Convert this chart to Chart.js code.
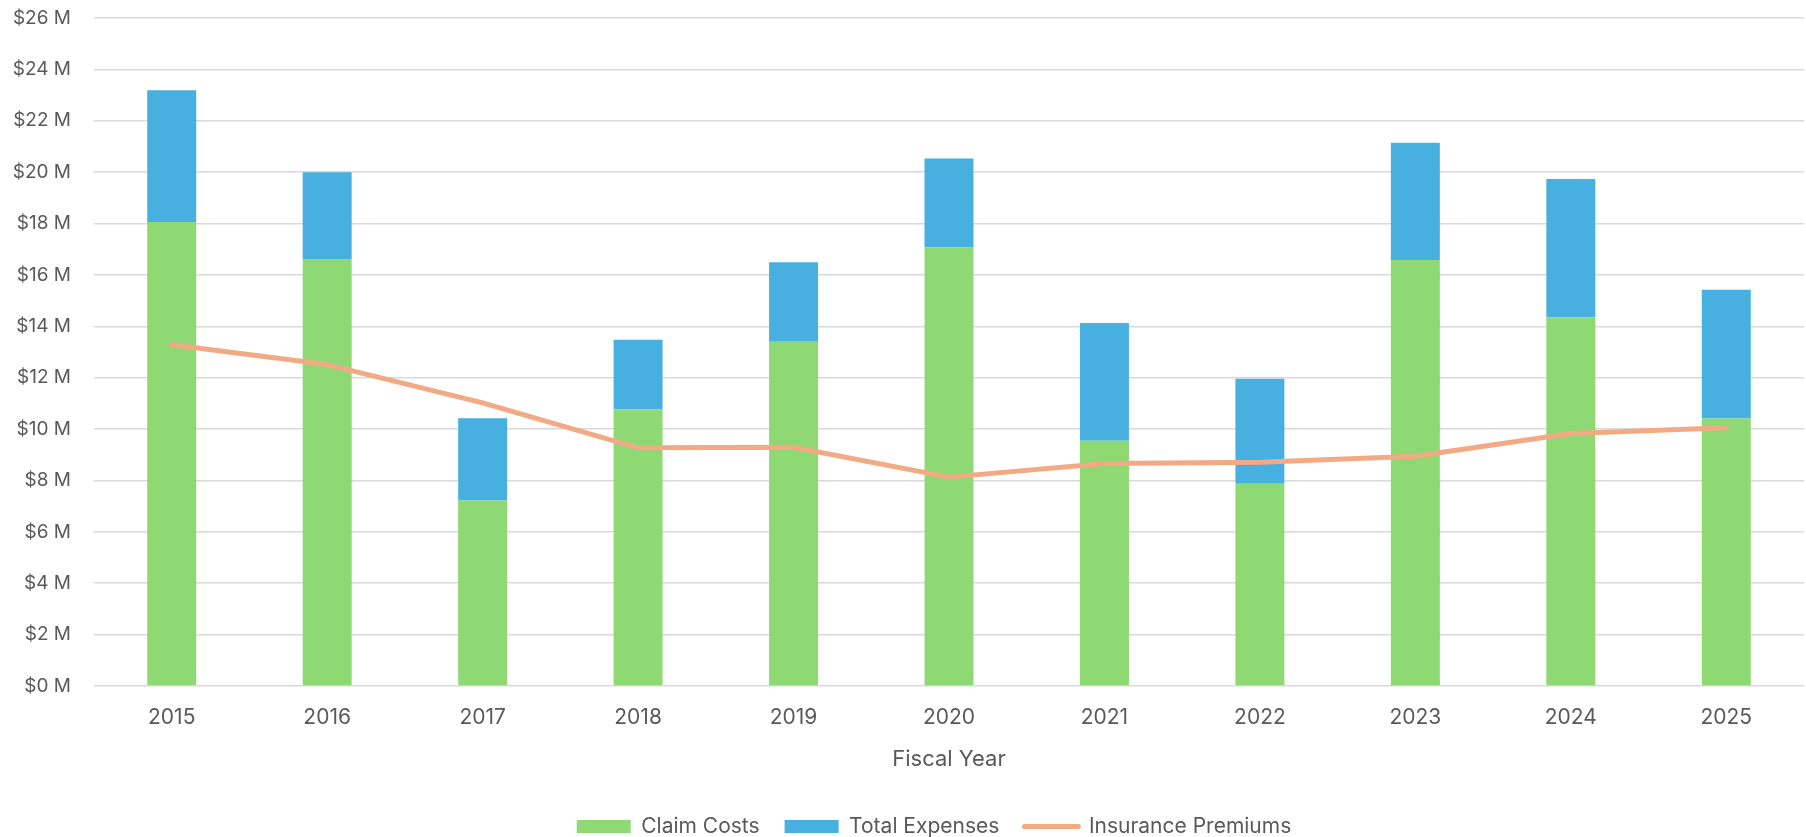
<!DOCTYPE html>
<html>
<head>
<meta charset="utf-8">
<title>Claim Costs, Expenses and Premiums by Fiscal Year</title>
<script src="https://cdn.jsdelivr.net/npm/chart.js@4.4.1/dist/chart.umd.min.js"></script>
<style>
  html, body { margin: 0; padding: 0; background: #fff; }
  canvas { display: block; }
</style>
</head>
<body>
<canvas id="chart" width="1806" height="837"></canvas>
<script>
// Fiscal years and values in $ millions
const fiscalYears = ['2015', '2016', '2017', '2018', '2019', '2020', '2021', '2022', '2023', '2024', '2025'];
const claimCosts = [18.06, 16.62, 7.22, 10.76, 13.40, 17.07, 9.55, 7.87, 16.58, 14.34, 10.41];
// stacked on top of claim costs
const totalExpenses = [5.13, 3.38, 3.20, 2.72, 3.09, 3.46, 4.58, 4.09, 4.56, 5.39, 5.01];
const insurancePremiums = [13.28, 12.51, 11.02, 9.27, 9.29, 8.13, 8.66, 8.71, 8.94, 9.83, 10.05];
const yTicks = [0, 2, 4, 6, 8, 10, 12, 14, 16, 18, 20, 22, 24, 26];

const GREEN = '#8ED973';
const BLUE = '#47B0E0';
const ORANGE = '#F2AA84';
const TEXT = '#595959';
const FONT = 'Inter, "Noto Sans", sans-serif';

// move the legend a bit down and to the right
const legendShift = {
  id: 'legendShift',
  afterLayout(chart) {
    const lg = chart.legend;
    lg.top += 10;
    lg.bottom += 10;
    lg.left += 32;
    lg.right += 32;
  }
};

const ctx = document.getElementById('chart').getContext('2d');
new Chart(ctx, {
  type: 'bar',
  data: {
    labels: fiscalYears,
    datasets: [
      {
        label: 'Claim Costs',
        data: claimCosts,
        backgroundColor: GREEN,
        stack: 'cost',
        order: 1,
        categoryPercentage: 1,
        barPercentage: 0.315,
      },
      {
        label: 'Total Expenses',
        data: totalExpenses,
        backgroundColor: BLUE,
        stack: 'cost',
        order: 1,
        categoryPercentage: 1,
        barPercentage: 0.315,
      },
      {
        type: 'line',
        label: 'Insurance Premiums',
        data: insurancePremiums,
        borderColor: ORANGE,
        backgroundColor: ORANGE,
        borderWidth: 5,
        borderCapStyle: 'round',
        borderJoinStyle: 'round',
        pointRadius: 0,
        tension: 0,
        stack: 'premium',
        order: 0,
      },
    ],
  },
  options: {
    responsive: false,
    animation: false,
    layout: {
      padding: { top: 18, right: 2, left: 0, bottom: 0 },
    },
    plugins: {
      tooltip: { enabled: false },
      legend: {
        position: 'bottom',
        labels: {
          font: { family: FONT, size: 21 },
          color: TEXT,
          usePointStyle: true,
          pointStyleWidth: 54,
          boxHeight: 13,
          padding: 25,
          generateLabels: function (chart) {
            return chart.data.datasets.map((ds, i) => {
              const isLine = ds.type === 'line';
              return {
                text: ds.label,
                fillStyle: ds.backgroundColor,
                strokeStyle: isLine ? ds.borderColor : ds.backgroundColor,
                lineWidth: isLine ? 5 : 0,
                lineCap: 'round',
                pointStyle: isLine ? 'line' : 'rect',
                fontColor: TEXT,
                hidden: false,
                datasetIndex: i,
              };
            });
          },
        },
      },
    },
    scales: {
      x: {
        stacked: true,
        grid: { display: false, drawTicks: false },
        border: { display: false },
        ticks: {
          font: { family: FONT, size: 21 },
          color: TEXT,
          padding: 19,
        },
        title: {
          display: true,
          text: 'Fiscal Year',
          font: { family: FONT, size: 22 },
          color: TEXT,
          padding: { top: 0, bottom: 8 },
        },
        afterFit: (scale) => {
          scale.height = 95;
        },
      },
      y: {
        stacked: true,
        min: 0,
        max: 26,
        afterBuildTicks: (scale) => {
          scale.ticks = yTicks.map((v) => ({ value: v }));
        },
        // invisible tick marks keep the labels off the plot edge
        grid: {
          color: '#D9D9D9',
          lineWidth: 1.5,
          drawTicks: true,
          tickLength: 23,
          tickColor: 'rgba(0,0,0,0)',
        },
        border: { display: false },
        ticks: {
          font: { family: FONT, size: 19 },
          color: TEXT,
          padding: 0,
          callback: (v) => '$' + v + ' M',
        },
        afterFit: (scale) => {
          scale.width = 94;
        },
      },
    },
  },
  plugins: [legendShift],
});
</script>
</body>
</html>
